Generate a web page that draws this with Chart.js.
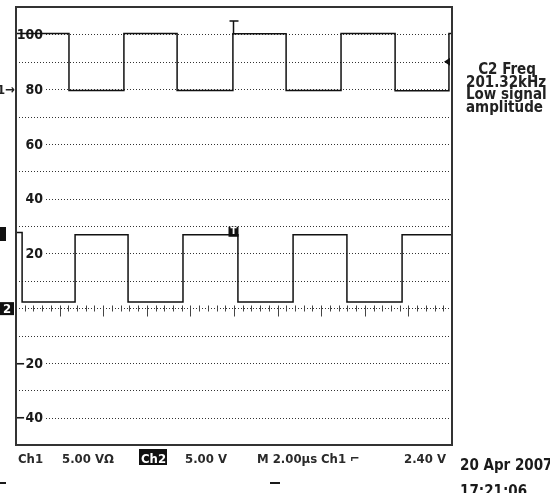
<!DOCTYPE html>
<html>
<head>
<meta charset="utf-8">
<script src="https://cdn.jsdelivr.net/npm/chart.js@4.4.1/dist/chart.umd.min.js"></script>
<style>
    html, body { margin: 0; padding: 0; background: #fff; }
    #wrap { width: 550px; height: 493px; }
</style>
</head>
<body>
<div id="wrap"><canvas id="scopeChart" width="550" height="493"></canvas></div>
<script>
// Transições de cada canal (tempo em µs) e nível logo após cada transição
const ch1Tempos = [0, 2.43, 4.95, 7.39, 9.95, 12.39, 14.91, 17.39, 19.86, 20];
const ch1Niveis = [100.3, 79.5, 100.3, 79.5, 100.2, 79.5, 100.3, 79.4, 100.3, 100.3];
const ch2Tempos = [0, 0.28, 2.71, 5.14, 7.66, 10.18, 12.71, 15.18, 17.71, 20];
const ch2Niveis = [27.6, 2.2, 26.8, 2.2, 26.8, 2.2, 26.8, 2.2, 26.8, 26.8];

// Grade e rótulos do eixo vertical
const linhasGrade = [100, 90, 80, 70, 60, 50, 40, 30, 20, 10, 0, -10, -20, -30, -40];
const rotulosY = [100, 80, 60, 40, 20, -20, -40];
const passoTicksX = 0.4; // 5 marcas por divisão de 2 µs
const divisaoX = 2;

// Textos da tela
const textoLateral = ['C2 Freq', '201.32kHz', 'Low signal', 'amplitude'];
const textoRodape = [
    { x: 18, t: 'Ch1' },
    { x: 62, t: '5.00 VΩ' },
    { x: 185, t: '5.00 V' },
    { x: 257, t: 'M 2.00µs' },
    { x: 321, t: 'Ch1 ⌐' },
    { x: 404, t: '2.40 V' }
];

function pontos(tempos, niveis) {
    return tempos.map((t, i) => ({ x: t, y: niveis[i] }));
}

const familia = '"DejaVu Sans Condensed", "Liberation Sans Narrow", sans-serif';

// Plugin que desenha a grade pontilhada, rótulos e marcadores do osciloscópio
const telaOsciloscopio = {
    id: 'telaOsciloscopio',
    beforeDatasetsDraw(chart) {
        const { ctx, chartArea: a, scales: { x, y } } = chart;
        ctx.save();

        linhasGrade.forEach(v => {
            const py = Math.round(y.getPixelForValue(v)) + 0.5;
            const inicio = rotulosY.includes(v) ? a.left + 30 : a.left;
            ctx.strokeStyle = '#333';
            ctx.lineWidth = 1;
            ctx.setLineDash([1, 2]);
            ctx.beginPath();
            ctx.moveTo(inicio, py);
            ctx.lineTo(a.right, py);
            ctx.stroke();
        });
        ctx.setLineDash([]);

        // marcas na linha central
        const py0 = Math.round(y.getPixelForValue(0)) + 0.5;
        ctx.strokeStyle = '#444';
        for (let t = 0; t <= 20.001; t += passoTicksX) {
            const px = Math.round(x.getPixelForValue(t)) + 0.5;
            const maior = Math.abs(t / divisaoX - Math.round(t / divisaoX)) < 0.01;
            ctx.beginPath();
            ctx.moveTo(px, py0 - 3);
            ctx.lineTo(px, py0 + (maior ? 8 : 3));
            ctx.stroke();
        }

        ctx.font = 'bold 14px ' + familia;
        ctx.textAlign = 'right';
        ctx.textBaseline = 'middle';
        ctx.fillStyle = '#1a1a1a';
        rotulosY.forEach(v => {
            ctx.fillText(String(v).replace('-', '−'), a.left + 27, y.getPixelForValue(v) + 1);
        });
        ctx.restore();
    },
    afterDatasetsDraw(chart) {
        const { ctx, chartArea: a, scales: { x, y } } = chart;
        ctx.save();
        // moldura
        ctx.strokeStyle = '#333';
        ctx.lineWidth = 2;
        ctx.strokeRect(a.left, a.top, a.right - a.left, a.bottom - a.top);

        // marcador de disparo no topo
        const pxT = Math.round(x.getPixelForValue(ch1Tempos[4])) + 0.5;
        ctx.lineWidth = 1.5;
        ctx.strokeStyle = '#111';
        ctx.beginPath();
        ctx.moveTo(pxT - 4, a.top + 14);
        ctx.lineTo(pxT + 5, a.top + 14);
        ctx.moveTo(pxT, a.top + 14);
        ctx.lineTo(pxT, y.getPixelForValue(100));
        ctx.stroke();

        // caixa "T" no canal 2
        ctx.fillStyle = '#111';
        const pyT = y.getPixelForValue(ch2Niveis[4]);
        ctx.fillRect(pxT - 5, pyT - 8, 10, 10);
        ctx.fillStyle = '#fff';
        ctx.font = 'bold 9px "DejaVu Sans", sans-serif';
        ctx.textAlign = 'center';
        ctx.textBaseline = 'middle';
        ctx.fillText('T', pxT, pyT - 3);

        // nível de disparo (seta à direita)
        const pyN = y.getPixelForValue(90);
        ctx.fillStyle = '#111';
        ctx.beginPath();
        ctx.moveTo(a.right - 8, pyN);
        ctx.lineTo(a.right - 2, pyN - 4);
        ctx.lineTo(a.right - 2, pyN + 4);
        ctx.closePath();
        ctx.fill();

        // marcadores de canal à esquerda
        ctx.font = 'bold 13px ' + familia;
        ctx.textAlign = 'right';
        ctx.fillStyle = '#222';
        ctx.fillText('1→', a.left - 1, y.getPixelForValue(80) + 1);
        ctx.fillStyle = '#111';
        ctx.fillRect(0, y.getPixelForValue(30) + 1, 6, 14);
        const py2 = y.getPixelForValue(0);
        ctx.fillRect(0, py2 - 6, 14, 13);
        ctx.fillStyle = '#fff';
        ctx.textAlign = 'center';
        ctx.fillText('2', 7, py2 + 1);

        // texto lateral
        ctx.fillStyle = '#222';
        ctx.textAlign = 'left';
        ctx.textBaseline = 'alphabetic';
        ctx.font = 'bold 15px ' + familia;
        textoLateral.forEach((t, i) => {
            const largura = ctx.measureText(t).width;
            const px = i === 0 ? 507 - largura / 2 : 466;
            ctx.fillText(t, px, 74 + i * 12.5);
        });

        // rodapé
        ctx.font = 'bold 13px ' + familia;
        textoRodape.forEach(r => {
            ctx.fillStyle = '#2a2a2a';
            ctx.fillText(r.t, r.x, 463);
        });
        ctx.fillStyle = '#111';
        ctx.fillRect(139, 449, 28, 16);
        ctx.fillStyle = '#fff';
        ctx.fillText('Ch2', 141, 463);

        ctx.fillStyle = '#1a1a1a';
        ctx.font = 'bold 15px ' + familia;
        ctx.fillText('20 Apr 2007', 460, 470);
        ctx.fillText('17:21:06', 460, 496);

        ctx.fillRect(0, 482, 6, 2);
        ctx.fillRect(270, 482, 10, 2);
        ctx.restore();
    }
};

function criarOsciloscopio() {
    const ctx = document.getElementById('scopeChart').getContext('2d');
    new Chart(ctx, {
        type: 'line',
        data: {
            datasets: [{
                label: 'Ch1',
                data: pontos(ch1Tempos, ch1Niveis),
                stepped: 'before',
                borderColor: '#111',
                borderWidth: 1.5,
                pointRadius: 0
            }, {
                label: 'Ch2',
                data: pontos(ch2Tempos, ch2Niveis),
                stepped: 'before',
                borderColor: '#111',
                borderWidth: 1.5,
                pointRadius: 0
            }]
        },
        options: {
            responsive: false,
            animation: false,
            layout: { padding: { left: 16, top: 7, right: 98, bottom: 48 } },
            plugins: {
                legend: { display: false },
                tooltip: { enabled: false }
            },
            scales: {
                x: { type: 'linear', min: 0, max: 20, display: false },
                y: { min: -50, max: 110, display: false }
            }
        },
        plugins: [telaOsciloscopio]
    });
}

document.addEventListener('DOMContentLoaded', criarOsciloscopio);
</script>
</body>
</html>
